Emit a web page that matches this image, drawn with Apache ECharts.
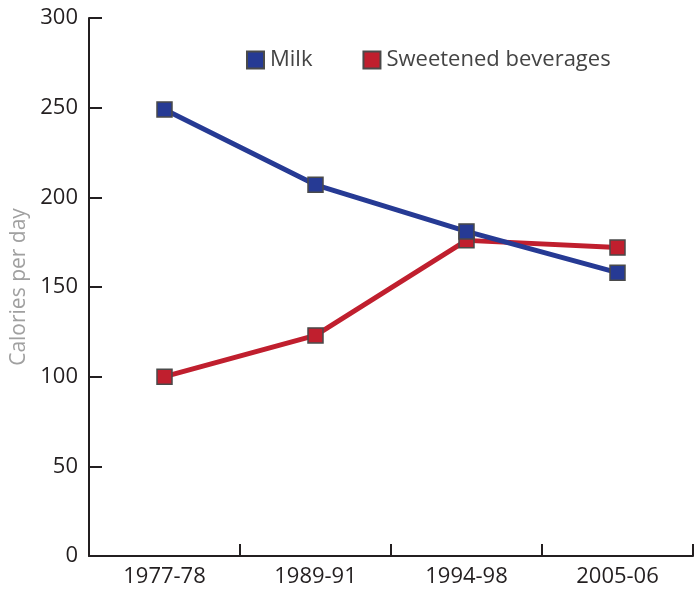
<!DOCTYPE html>
<html><head><meta charset="utf-8">
<script src="https://cdn.jsdelivr.net/npm/echarts@6/dist/echarts.min.js"></script>
<style>html,body{margin:0;padding:0;background:#fff}#c{width:694px;height:589px}</style>
</head><body><div id="c"></div>
<script>
var categories = ['1977-78', '1989-91', '1994-98', '2005-06'];
var milk = [249, 207, 181, 158];
var sweetened = [100, 123, 176, 172];
var yTicks = [0, 50, 100, 150, 200, 250, 300];

var FONT = '"Open Sans", "Noto Sans", sans-serif';
var chart = echarts.init(document.getElementById('c'), null, {renderer: 'canvas'});
chart.setOption({
  animation: false,
  grid: {left: 89, right: 1, top: 18, bottom: 33, containLabel: false, outerBoundsMode: 'none'},
  legend: {
    data: ['Milk', 'Sweetened beverages'],
    left: 241, top: 44,
    itemWidth: 17, itemHeight: 17, itemGap: 50,
    icon: 'rect',
    textStyle: {fontFamily: FONT, fontSize: 22, color: '#444', padding: [0, 0, 0, 1]}
  },
  xAxis: {
    type: 'category', data: categories, boundaryGap: true,
    axisLine: {lineStyle: {color: '#231f20', width: 2}},
    axisTick: {show: true, inside: true, length: 12, lineStyle: {color: '#231f20', width: 2}},
    axisLabel: {fontFamily: FONT, fontSize: 22, color: '#231f20', margin: 10}
  },
  yAxis: {
    type: 'value', min: 0, max: 300, interval: 50,
    name: 'Calories per day', nameLocation: 'middle', nameGap: 57, nameRotate: 90,
    nameTextStyle: {fontFamily: FONT, fontSize: 21, color: '#a0a0a0'},
    axisLine: {show: true, lineStyle: {color: '#231f20', width: 2}},
    axisTick: {show: true, inside: true, length: 13, lineStyle: {color: '#231f20', width: 2}},
    splitLine: {show: false},
    axisLabel: {fontFamily: FONT, fontSize: 22, color: '#231f20', margin: 11,
      formatter: function (v) { return yTicks.indexOf(v) >= 0 ? String(v) : ''; }}
  },
  series: [
    {name: 'Sweetened beverages', type: 'line', data: sweetened, z: 2,
     symbol: 'rect', symbolSize: 15,
     lineStyle: {color: '#c01f2e', width: 5},
     itemStyle: {color: '#c01f2e', borderColor: '#4a4a4a', borderWidth: 1.5}},
    {name: 'Milk', type: 'line', data: milk, z: 3,
     symbol: 'rect', symbolSize: 15,
     lineStyle: {color: '#263a94', width: 5},
     itemStyle: {color: '#263a94', borderColor: '#4a4a4a', borderWidth: 1.5}}
  ]
});
</script></body></html>
